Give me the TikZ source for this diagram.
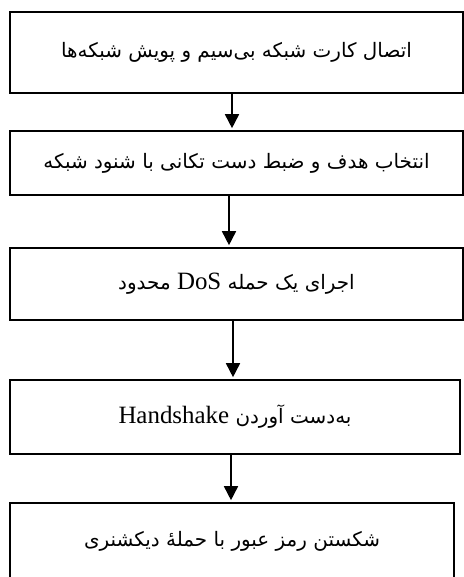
\documentclass[tikz,border=0pt]{standalone}
\usepackage{fontspec}
\setmainfont{Liberation Serif}
\newfontfamily\farsifont[Script=Arabic]{DejaVu Sans}
\TeXXeTstate=1
\usetikzlibrary{arrows.meta,positioning}
\newcommand{\fa}[1]{{\farsifont\beginR #1\endR}}
\newcommand{\en}[1]{\beginL{\rmfamily #1}\endL}

\begin{document}
\begin{tikzpicture}[
    x=1bp, y=-1bp,
    stage/.style={rectangle, draw=black, line width=1.6bp, fill=white,
                  inner sep=0pt, font=\fontsize{20}{24}\selectfont},
    flow/.style={-{Triangle[length=14bp, width=14bp]}, line width=1.6bp,
                 draw=black, shorten >=2bp}
]
\clip (0,0) rectangle (464,577);
\useasboundingbox (0,0) rectangle (464,577);

\node[stage, minimum width=453bp, minimum height=81bp] (scan) at (236.5,52.5)
    {\fa{اتصال کارت شبکه بی‌سیم و پویش شبکه‌ها}};
\node[stage, minimum width=453bp, minimum height=64bp] (target) at (236.5,163)
    {\fa{انتخاب هدف و ضبط دست تکانی با شنود شبکه}};
\node[stage, minimum width=453bp, minimum height=72bp] (dos) at (236.5,284)
    {\fa{اجرای یک حمله \en{\fontsize{25}{28}\selectfont DoS} محدود}};
\node[stage, minimum width=450bp, minimum height=74bp] (hshake) at (235,417)
    {\fa{به‌دست آوردن \en{\fontsize{25}{28}\selectfont Handshake}}};
\node[stage, minimum width=444bp, minimum height=76bp] (crack) at (232,541)
    {\fa{شکستن رمز عبور با حملهٔ دیکشنری}};

\draw[flow] ([xshift=-4.5bp]scan.south)   -- ([xshift=-4.5bp]target.north);
\draw[flow] ([xshift=-7.5bp]target.south) -- ([xshift=-7.5bp]dos.north);
\draw[flow] ([xshift=-3.5bp]dos.south)    -- ([xshift=-2bp]hshake.north);
\draw[flow] ([xshift=-4bp]hshake.south)   -- ([xshift=-1bp]crack.north);
\end{tikzpicture}
\end{document}
